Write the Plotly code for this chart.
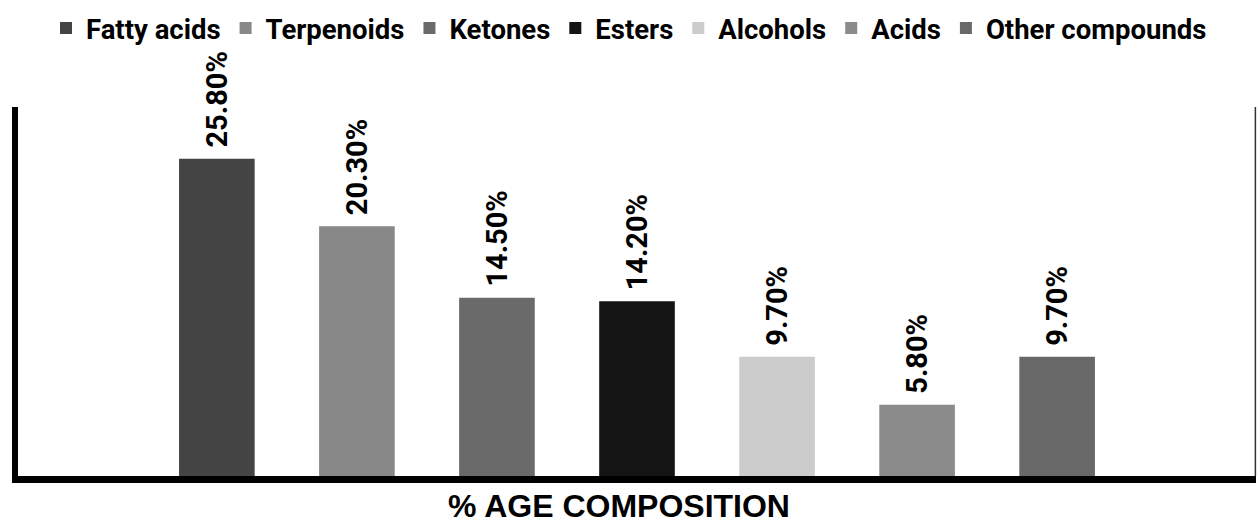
import plotly.graph_objects as go

categories = ["Fatty acids", "Terpenoids", "Ketones", "Esters", "Alcohols", "Acids", "Other compounds"]
values = [25.8, 20.3, 14.5, 14.2, 9.7, 5.8, 9.7]
labels = ["25.80%", "20.30%", "14.50%", "14.20%", "9.70%", "5.80%", "9.70%"]
colors = ["#444444", "#888888", "#6a6a6a", "#141414", "#cccccc", "#8b8b8b", "#686868"]
axis_title = "% AGE COMPOSITION"

fig = go.Figure()
for cat, val, col in zip(categories, values, colors):
    fig.add_trace(go.Bar(
        x=[cat], y=[val], name=cat,
        marker=dict(color=col, line=dict(width=0)),
        width=0.54,
    ))

label_annotations = [
    dict(x=cat, y=val, xref="x", yref="y", text=lab, textangle=-90,
         xanchor="center", yanchor="bottom", yshift=9, showarrow=False,
         font=dict(family="Roboto", size=29, color="#000000", weight="bold"))
    for cat, val, lab in zip(categories, values, labels)
]

fig.update_layout(
    width=1257, height=523,
    margin=dict(l=18, r=1, t=107, b=47),
    paper_bgcolor="white", plot_bgcolor="white",
    barmode="overlay",
    showlegend=True,
    legend=dict(orientation="h", x=0.5004, xref="container", xanchor="center",
                y=0.946, yanchor="middle", yref="container",
                bgcolor="rgba(0,0,0,0)",
                font=dict(family="Roboto", size=27.5, color="#000000", weight="bold"),
                itemclick=False, traceorder="normal"),
    xaxis=dict(categoryorder="array", categoryarray=categories,
               range=[-1.42, 7.42], showticklabels=False, ticks="",
               showgrid=False, zeroline=False,
               showline=True, linecolor="#000000", linewidth=7),
    yaxis=dict(range=[0, 30], showticklabels=False, ticks="", showgrid=False,
               zeroline=False, showline=True, linecolor="#000000", linewidth=6),
    shapes=[dict(type="line", xref="paper", yref="paper", x0=0.9995, x1=0.9995, y0=0, y1=1,
                 line=dict(color="#333333", width=1.5))],
    annotations=label_annotations + [
        dict(text=axis_title, xref="paper", yref="paper", x=0.4855, y=-0.081,
             xanchor="center", yanchor="middle", showarrow=False,
             font=dict(family="Liberation Sans, Arial", size=32, color="#000000",
                       weight="bold"))],
)

fig.write_html("out.html", config={"displayModeBar": False},
               post_script="document.body.style.margin='0';document.body.style.overflow='hidden';")
